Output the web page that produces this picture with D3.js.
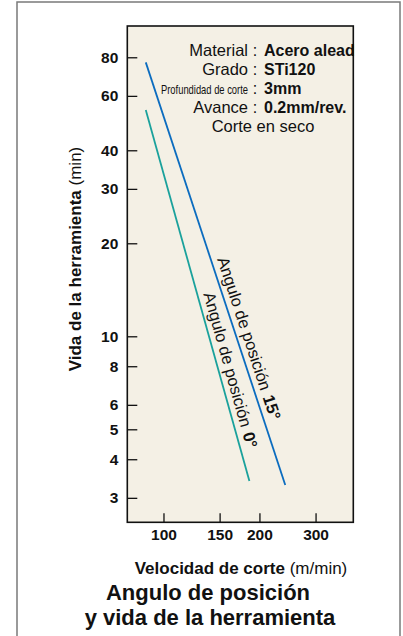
<!DOCTYPE html>
<html>
  <head>
    <meta charset="utf-8">
    <title>Angulo de posición y vida de la herramienta</title>
    <script src="https://cdn.jsdelivr.net/npm/d3@7"></script>
    <style>
      body { margin: 0; background: #fff; }
      svg { display: block; font-family: "Liberation Sans", Arial, Helvetica, sans-serif; }
      .tick line { stroke: #111; stroke-width: 1.3; }
      .tick text { font-size: 15.5px; font-weight: bold; fill: #111; }
    </style>
  </head>

  <body>
    <svg id="chart" width="403" height="636"></svg>

    <script>
      // data
      yTicks = [3, 4, 5, 6, 8, 10, 20, 30, 40, 60, 80];
      xTicks = [100, 150, 200, 300];
      speed15 = [88, 241];
      life15 = [77, 3.3];
      speed0 = [88, 186];
      life0 = [54, 3.4];
      notesLabel = ["Material", "Grado", "Profundidad de corte", "Avance"];
      notesValue = ["Acero alead", "STi120", "3mm", "0.2mm/rev."];

      // elements
      svg = d3.select("#chart");

      x = d3.scaleLog()
        .domain([77, 394])
        .range([127.3, 353.3]);
      y = d3.scaleLog()
        .domain([2.5, 101])
        .range([522.3, 26]);

      // outer frame
      svg.append("rect")
        .attr("x", 17)
        .attr("y", 2)
        .attr("width", 383)
        .attr("height", 660)
        .attr("fill", "#fff")
        .attr("stroke", "#7a7a7a")
        .attr("stroke-width", 1.5);

      // plot area
      svg.append("rect")
        .attr("x", x.range()[0])
        .attr("y", y.range()[1])
        .attr("width", x.range()[1] - x.range()[0])
        .attr("height", y.range()[0] - y.range()[1])
        .attr("fill", "#f4f0e5")
        .attr("stroke", "#111")
        .attr("stroke-width", 1.6);

      yAxis = svg.append("g")
        .attr("transform", "translate(" + x.range()[0] + ",0)")
        .call(d3.axisLeft(y)
          .tickValues(yTicks)
          .tickFormat(d3.format("d"))
          .tickSize(-10)
          .tickPadding(9));
      yAxis.select(".domain").remove();

      xAxis = svg.append("g")
        .attr("transform", "translate(0," + y.range()[0] + ")")
        .call(d3.axisBottom(x)
          .tickValues(xTicks)
          .tickFormat(d3.format("d"))
          .tickSize(-9)
          .tickPadding(7));
      xAxis.select(".domain").remove();
      svg.selectAll(".tick text").attr("font-family", null);

      // lines
      series = [
        { xs: speed15, ys: life15, color: "#0b6cbf", frac: 0.47, lab: "15°" },
        { xs: speed0, ys: life0, color: "#1aa19c", frac: 0.5, lab: "0°" }
      ];

      line = d3.line()
        .x(function(d) { return x(d[0]); })
        .y(function(d) { return y(d[1]); });

      series.forEach(function(s) {
        pts = d3.zip(s.xs, s.ys);
        svg.append("path")
          .datum(pts)
          .attr("d", line)
          .attr("fill", "none")
          .attr("stroke", s.color)
          .attr("stroke-width", 1.8);

        // label running along the line
        x0 = x(s.xs[0]), y0 = y(s.ys[0]);
        x1 = x(s.xs[1]), y1 = y(s.ys[1]);
        theta = Math.atan2(y1 - y0, x1 - x0);
        off = 6;
        px = x0 + s.frac * (x1 - x0) + off * Math.sin(theta);
        py = y0 + s.frac * (y1 - y0) - off * Math.cos(theta);
        t = svg.append("text")
          .attr("transform", "translate(" + px + "," + py + ") rotate(" + theta * 180 / Math.PI + ")")
          .attr("font-size", 16.5)
          .attr("fill", "#111");
        t.append("tspan").text("Angulo de posición");
        t.append("tspan").attr("dx", 6).attr("font-weight", "bold").text(s.lab);
      });

      // notes
      notes = svg.append("g")
        .attr("font-size", 16.5)
        .attr("fill", "#111");
      notesLabel.forEach(function(d, i) {
        yy = 56 + i * 19;
        lab = notes.append("text")
          .attr("x", 248)
          .attr("y", yy)
          .attr("text-anchor", "end")
          .text(d);
        if (i == 2) {
          lab.attr("font-size", 13)
            .attr("textLength", 87)
            .attr("lengthAdjust", "spacingAndGlyphs");
        }
        notes.append("text")
          .attr("x", 255)
          .attr("y", yy)
          .attr("text-anchor", "middle")
          .attr("font-size", 16)
          .text(":");
        notes.append("text")
          .attr("x", 264)
          .attr("y", yy)
          .attr("font-size", 16)
          .attr("font-weight", "bold")
          .text(notesValue[i]);
      });
      notes.append("text")
        .attr("x", 263)
        .attr("y", 132)
        .attr("text-anchor", "middle")
        .text("Corte en seco");

      // axis titles
      yTitle = svg.append("text")
        .attr("transform", "translate(80.5,259) rotate(-90)")
        .attr("text-anchor", "middle")
        .attr("font-size", 17)
        .attr("fill", "#111");
      yTitle.append("tspan").attr("font-weight", "bold").text("Vida de la herramienta");
      yTitle.append("tspan").text(" (min)");

      xTitle = svg.append("text")
        .attr("x", 241)
        .attr("y", 573.5)
        .attr("text-anchor", "middle")
        .attr("font-size", 17)
        .attr("fill", "#111");
      xTitle.append("tspan").attr("font-weight", "bold").text("Velocidad de corte");
      xTitle.append("tspan").text(" (m/min)");

      // chart title
      svg.append("text")
        .attr("x", 208)
        .attr("y", 600)
        .attr("text-anchor", "middle")
        .attr("font-size", 22)
        .attr("font-weight", "bold")
        .attr("fill", "#111")
        .text("Angulo de posición");
      svg.append("text")
        .attr("x", 210)
        .attr("y", 624.5)
        .attr("text-anchor", "middle")
        .attr("font-size", 22)
        .attr("font-weight", "bold")
        .attr("fill", "#111")
        .text("y vida de la herramienta");
    </script>
  </body>
</html>
